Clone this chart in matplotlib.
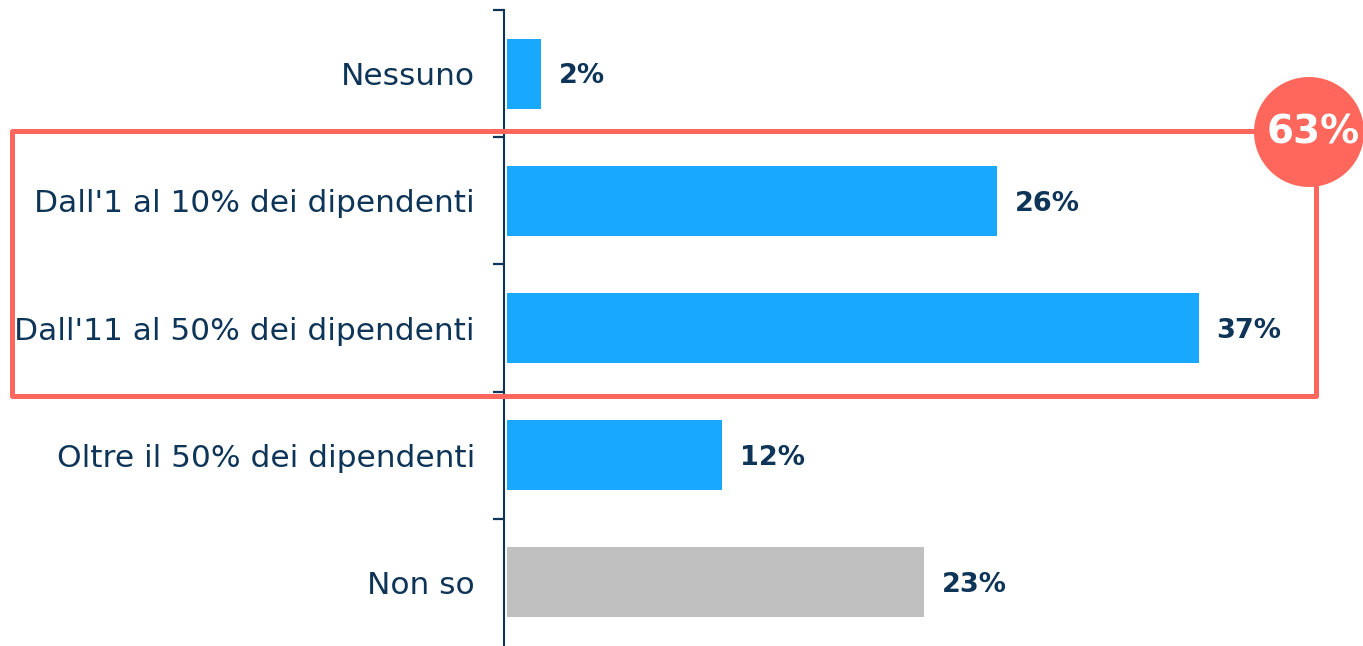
import matplotlib.pyplot as plt
import matplotlib.patches as mpatches
import numpy as np

# Data
categories = ["Nessuno", "Dall'1 al 10% dei dipendenti", "Dall'11 al 50% dei dipendenti",
              "Oltre il 50% dei dipendenti", "Non so"]
values = [1.8, 26.2, 37.0, 11.5, 22.3]   # bar lengths
value_labels = ["2%", "26%", "37%", "12%", "23%"]
bar_colors = ["#18A9FF", "#18A9FF", "#18A9FF", "#18A9FF", "#C0C0C0"]
highlight_total = "63%"

navy = "#0E3558"
coral = "#FF675C"

fig = plt.figure(figsize=(13.63, 6.46), dpi=100)
ax = fig.add_axes([504 / 1363, 0.0, 1 - 504 / 1363, 1 - 10 / 646])

y = np.arange(len(categories))
ax.barh(y, values, height=0.55, color=bar_colors)

# value labels to the right of each bar
for yi, v, lab in zip(y, values, value_labels):
    ax.annotate(lab, xy=(v, yi), xytext=(13, -2), textcoords="offset points",
                ha="left", va="center", fontsize=19.5, fontweight="bold", color=navy)

ax.set_ylim(len(categories) - 0.5, -0.5)
ax.set_xlim(-0.16, 45.8)

ax.set_yticks(y)
ax.set_yticklabels(categories, fontsize=22.5, color=navy)
ax.set_yticks(np.arange(len(categories)) - 0.5, minor=True)
ax.tick_params(axis="y", which="major", length=0, pad=21)
ax.tick_params(axis="y", which="minor", length=8, width=1.6, color=navy, direction="out")
ax.set_xticks([])

for side in ["top", "right", "bottom"]:
    ax.spines[side].set_visible(False)
ax.spines["left"].set_color(navy)
ax.spines["left"].set_linewidth(1.5)

# highlight box around the two middle categories
W, H = 1363, 646
rect = mpatches.Rectangle((12 / W, (H - 396) / H), (1316 - 12) / W, (396 - 131) / H,
                          transform=fig.transFigure, fill=False, edgecolor=coral,
                          linewidth=3.6, joinstyle="round", zorder=5)
fig.add_artist(rect)

circle = mpatches.Ellipse((1309 / W, (H - 132) / H), 110 / W, 110 / H,
                          transform=fig.transFigure, facecolor=coral, edgecolor="none", zorder=6)
fig.add_artist(circle)
fig.text(1313 / W, (H - 132) / H, highlight_total, ha="center", va="center",
         fontsize=28, fontweight="bold", color="white", zorder=7)

fig.savefig("out.png", dpi=100)
